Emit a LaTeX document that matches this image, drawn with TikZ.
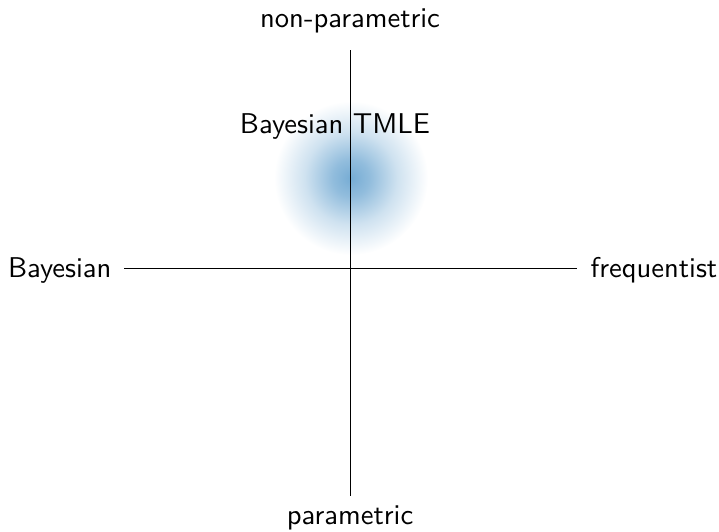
\documentclass[tikz,border=0pt]{standalone}
\usepackage{tikz}
\definecolor{blobblue}{RGB}{118,172,212}
\pgfdeclareradialshading{blobshade}{\pgfpoint{0bp}{0bp}}{color(0bp)=(blobblue); color(6bp)=(blobblue!80!white); color(15bp)=(blobblue!35!white); color(25bp)=(white); color(50bp)=(white)}
\tikzset{
  lbl/.style={font=\fontsize{10.4}{12}\sffamily, inner sep=0pt, text=black},
  axis/.style={draw=black, line width=0.35pt}
}
\begin{document}
\begin{tikzpicture}[x=0.363636pt, y=-0.363636pt]
\useasboundingbox (0,0) rectangle (719,531);
\shade[shading=blobshade] (351,178) circle (77);
\coordinate (T) at (350,50);
\coordinate (B) at (350,496);
\coordinate (L) at (124,268);
\coordinate (R) at (577,268);
\draw[axis] (L) -- (R);
\draw[axis] (T) -- (B);
\node[lbl, anchor=base] (np) at (350,27) {non-parametric};
\node[lbl, anchor=base] (p) at (350,524) {parametric};
\node[lbl, anchor=base east] (bay) at (112,277) {Bayesian};
\node[lbl, anchor=base west] (freq) at (590,277) {frequentist};
\node[lbl, anchor=base] (tmle) at (335,133) {Bayesian TMLE};
\end{tikzpicture}
\end{document}
